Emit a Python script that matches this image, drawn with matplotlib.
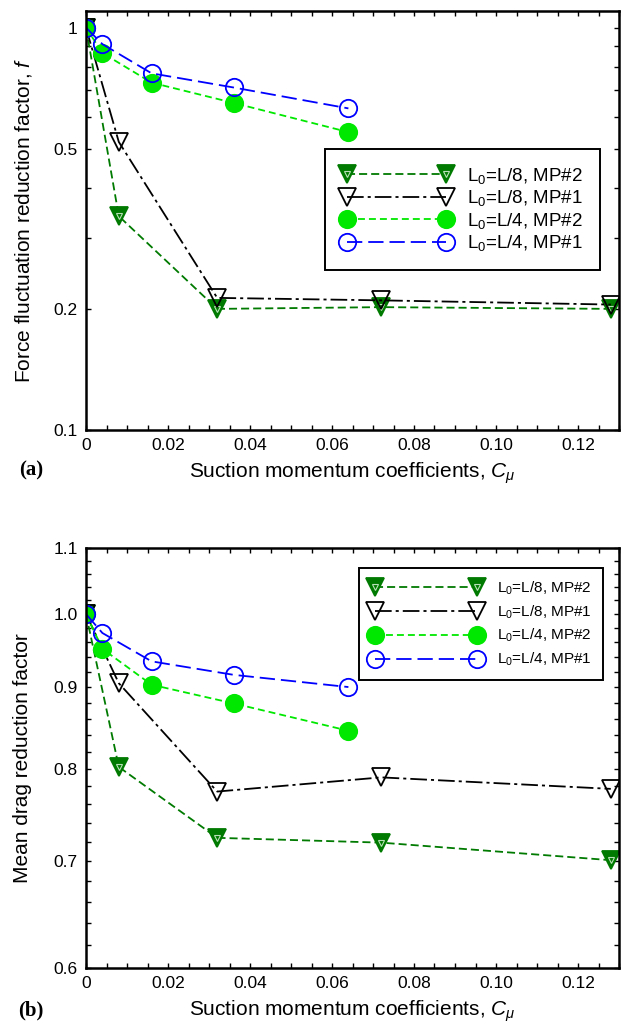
import matplotlib
matplotlib.use('Agg')
import matplotlib.pyplot as plt
from matplotlib.ticker import FixedLocator, NullFormatter, MultipleLocator, LogLocator
from matplotlib.legend_handler import HandlerTuple

plt.rcParams['font.family'] = ['Liberation Sans', 'DejaVu Sans']
plt.rcParams['mathtext.fontset'] = 'custom'
plt.rcParams['mathtext.rm'] = 'Liberation Sans'
plt.rcParams['mathtext.it'] = 'Liberation Sans:italic'
plt.rcParams['mathtext.bf'] = 'Liberation Sans:bold'
plt.rcParams['lines.scale_dashes'] = False

# ---- data ----
cmu_l8 = [0.0, 0.008, 0.032, 0.072, 0.128]
cmu_l4 = [0.0, 0.004, 0.016, 0.036, 0.064]

f_l8_mp2 = [1.0, 0.34, 0.200, 0.202, 0.200]
f_l8_mp1 = [1.0, 0.52, 0.213, 0.210, 0.205]
f_l4_mp2 = [1.0, 0.865, 0.73, 0.65, 0.55]
f_l4_mp1 = [1.0, 0.91, 0.77, 0.71, 0.63]

cd_l8_mp2 = [1.0, 0.802, 0.724, 0.719, 0.701]
cd_l8_mp1 = [1.0, 0.905, 0.774, 0.790, 0.777]
cd_l4_mp2 = [1.0, 0.951, 0.903, 0.879, 0.845]
cd_l4_mp1 = [1.0, 0.973, 0.934, 0.916, 0.900]

series_labels = [r'L$_0$=L/8, MP#2', r'L$_0$=L/8, MP#1',
                 r'L$_0$=L/4, MP#2', r'L$_0$=L/4, MP#1']

xticks = [0, 0.02, 0.04, 0.06, 0.08, 0.10, 0.12]
xticklabels = ['0', '0.02', '0.04', '0.06', '0.08', '0.10', '0.12']
yticks_a = [0.1, 0.2, 0.5, 1.0]
yticklabels_a = ['0.1', '0.2', '0.5', '1']
yticks_b = [0.6, 0.7, 0.8, 0.9, 1.0, 1.1]
yticklabels_b = ['0.6', '0.7', '0.8', '0.9', '1.0', '1.1']

# ---- styles ----
dkgreen = '#007a00'
lime = '#00e800'
blue = '#0000ff'
styles = [
    dict(color=dkgreen, marker='v', mfc=dkgreen, mec=dkgreen, dashes=(5.8, 2.9)),
    dict(color='black', marker='v', mfc='none', mec='black', dashes=(12, 2.9, 2.2, 2.9)),
    dict(color=lime, marker='o', mfc=lime, mec=lime, dashes=(5.0, 2.9)),
    dict(color=blue, marker='o', mfc='none', mec=blue, dashes=(11, 4.3)),
]

W, H = 625, 1033
fig = plt.figure(figsize=(W / 100, H / 100), dpi=100)
ax_a = fig.add_axes([86 / W, 1 - 430 / H, 533 / W, 419 / H])
ax_b = fig.add_axes([86 / W, 1 - 968 / H, 533 / W, 420 / H])


def draw(ax, xs, ys_list):
    handles = []
    for i, (x, y, st) in enumerate(zip(xs, ys_list, styles)):
        ln, = ax.plot(x, y, color=st['color'], lw=1.3, marker=st['marker'], ms=12.5,
                      mfc=st['mfc'], mec=st['mec'], mew=1.3, dashes=st['dashes'])
        if i == 0:
            inner, = ax.plot(x, y, ls='none', marker='v', ms=4.5, mfc='none',
                             mec='#b8e0b8', mew=0.8)
            handles.append((ln, inner))
        else:
            handles.append(ln)
    return handles


h_a = draw(ax_a, [cmu_l8, cmu_l8, cmu_l4, cmu_l4], [f_l8_mp2, f_l8_mp1, f_l4_mp2, f_l4_mp1])
h_b = draw(ax_b, [cmu_l8, cmu_l8, cmu_l4, cmu_l4], [cd_l8_mp2, cd_l8_mp1, cd_l4_mp2, cd_l4_mp1])

for ax in (ax_a, ax_b):
    ax.set_xlim(0, 0.13)
    ax.set_yscale('log')
    ax.set_xticks(xticks)
    ax.set_xticklabels(xticklabels)
    ax.xaxis.set_minor_locator(MultipleLocator(0.005))
    ax.tick_params(which='both', direction='in', top=True, right=True,
                   length=3.5, width=1.0, labelsize=12.5, pad=6)
    for sp in ax.spines.values():
        sp.set_linewidth(1.8)

ax_a.set_ylim(0.1, 1.1)
ax_a.yaxis.set_major_locator(FixedLocator(yticks_a))
ax_a.set_yticklabels(yticklabels_a)
ax_a.yaxis.set_minor_locator(LogLocator(base=10, subs=[2, 3, 4, 5, 6, 7, 8, 9]))
ax_a.yaxis.set_minor_formatter(NullFormatter())

ax_b.set_ylim(0.6, 1.1)
ax_b.yaxis.set_major_locator(FixedLocator(yticks_b))
ax_b.set_yticklabels(yticklabels_b)
ax_b.yaxis.set_minor_locator(MultipleLocator(0.02))
ax_b.yaxis.set_minor_formatter(NullFormatter())

ax_a.set_ylabel(r'Force fluctuation reduction factor, $f$', fontsize=15)
ax_b.set_ylabel('Mean drag reduction factor', fontsize=15)
for ax in (ax_a, ax_b):
    ax.set_xlabel(r'Suction momentum coefficients, $C_\mu$', fontsize=15)
    ax.xaxis.set_label_coords(0.5, -0.072)
ax_a.yaxis.set_label_coords(-0.098, 0.5)
ax_b.yaxis.set_label_coords(-0.101, 0.5)

hm = {tuple: HandlerTuple(ndivide=1, pad=0)}
leg_a = ax_a.legend(h_a, series_labels, loc='upper left', bbox_to_anchor=(0.4484, 0.6706),
                    borderaxespad=0, fontsize=13.5, numpoints=2, handlelength=5.83,
                    handletextpad=0.87, borderpad=0.9, labelspacing=0.13, fancybox=False,
                    framealpha=1, edgecolor='black', handler_map=hm)
leg_a.get_frame().set_linewidth(1.4)
leg_b = ax_b.legend(h_b, series_labels, loc='upper left', bbox_to_anchor=(0.5122, 0.9524),
                    borderaxespad=0, fontsize=11, numpoints=2, handlelength=7.3,
                    handletextpad=1.0, borderpad=0.75, labelspacing=0.42, fancybox=False,
                    framealpha=1, edgecolor='black', handler_map=hm)
leg_b.get_frame().set_linewidth(1.4)

fig.text(31 / W, 1 - 470 / H, '(a)', ha='center', va='center', fontsize=15,
         fontweight='bold', family='Liberation Serif')
fig.text(31 / W, 1 - 1010 / H, '(b)', ha='center', va='center', fontsize=15,
         fontweight='bold', family='Liberation Serif')

fig.savefig('out.png', dpi=100)
